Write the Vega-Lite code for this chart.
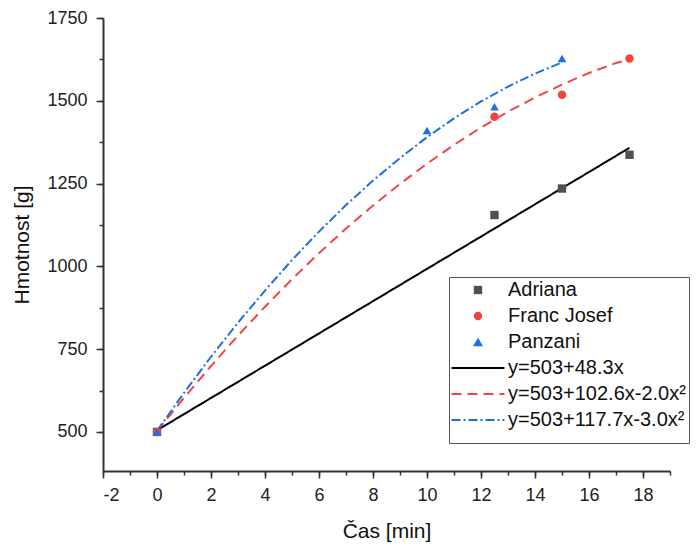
{
  "$schema": "https://vega.github.io/schema/vega-lite/v6.json",
  "width": 567,
  "height": 453,
  "autosize": "none",
  "padding": {"left": 103, "top": 18, "right": 27, "bottom": 77},
  "config": {
    "view": {"stroke": null},
    "font": "Liberation Sans",
    "axis": {
      "grid": false,
      "domainColor": "#333333",
      "domainWidth": 2,
      "tickColor": "#333333",
      "tickWidth": 1.5,
      "tickSize": 7,
      "labelFont": "Liberation Sans",
      "labelFontSize": 18,
      "labelColor": "#222222",
      "titleFont": "Liberation Sans",
      "titleFontSize": 21,
      "titleFontWeight": "normal",
      "titleColor": "#111111"
    }
  },
  "datasets": {
    "pts": [
      {"series": "Adriana", "t": 0, "m": 500},
      {"series": "Adriana", "t": 12.5, "m": 1155},
      {"series": "Adriana", "t": 15, "m": 1235},
      {"series": "Adriana", "t": 17.5, "m": 1337},
      {"series": "Franc Josef", "t": 0, "m": 500},
      {"series": "Franc Josef", "t": 12.5, "m": 1452},
      {"series": "Franc Josef", "t": 15, "m": 1518},
      {"series": "Franc Josef", "t": 17.5, "m": 1628},
      {"series": "Panzani", "t": 0, "m": 500},
      {"series": "Panzani", "t": 10, "m": 1410},
      {"series": "Panzani", "t": 12.5, "m": 1482},
      {"series": "Panzani", "t": 15, "m": 1628}
    ],
    "fit": [
      {"series": "y=503+48.3x", "t": 0, "m": 505},
      {"series": "y=503+48.3x", "t": 17.5, "m": 1358},
      {"series": "y=503+102.6x-2.0x²", "t": 0, "m": 503},
      {"series": "y=503+102.6x-2.0x²", "t": 1, "m": 603},
      {"series": "y=503+102.6x-2.0x²", "t": 2, "m": 699},
      {"series": "y=503+102.6x-2.0x²", "t": 3, "m": 791},
      {"series": "y=503+102.6x-2.0x²", "t": 4, "m": 878},
      {"series": "y=503+102.6x-2.0x²", "t": 5, "m": 961},
      {"series": "y=503+102.6x-2.0x²", "t": 6, "m": 1040},
      {"series": "y=503+102.6x-2.0x²", "t": 7, "m": 1114},
      {"series": "y=503+102.6x-2.0x²", "t": 8, "m": 1184},
      {"series": "y=503+102.6x-2.0x²", "t": 9, "m": 1249},
      {"series": "y=503+102.6x-2.0x²", "t": 10, "m": 1310},
      {"series": "y=503+102.6x-2.0x²", "t": 11, "m": 1367},
      {"series": "y=503+102.6x-2.0x²", "t": 12, "m": 1419},
      {"series": "y=503+102.6x-2.0x²", "t": 13, "m": 1467},
      {"series": "y=503+102.6x-2.0x²", "t": 14, "m": 1510},
      {"series": "y=503+102.6x-2.0x²", "t": 15, "m": 1549},
      {"series": "y=503+102.6x-2.0x²", "t": 16, "m": 1584},
      {"series": "y=503+102.6x-2.0x²", "t": 17, "m": 1614},
      {"series": "y=503+102.6x-2.0x²", "t": 17.5, "m": 1625},
      {"series": "y=503+117.7x-3.0x²", "t": 0, "m": 503},
      {"series": "y=503+117.7x-3.0x²", "t": 1, "m": 618},
      {"series": "y=503+117.7x-3.0x²", "t": 2, "m": 727},
      {"series": "y=503+117.7x-3.0x²", "t": 3, "m": 830},
      {"series": "y=503+117.7x-3.0x²", "t": 4, "m": 927},
      {"series": "y=503+117.7x-3.0x²", "t": 5, "m": 1019},
      {"series": "y=503+117.7x-3.0x²", "t": 6, "m": 1105},
      {"series": "y=503+117.7x-3.0x²", "t": 7, "m": 1185},
      {"series": "y=503+117.7x-3.0x²", "t": 8, "m": 1259},
      {"series": "y=503+117.7x-3.0x²", "t": 9, "m": 1327},
      {"series": "y=503+117.7x-3.0x²", "t": 10, "m": 1390},
      {"series": "y=503+117.7x-3.0x²", "t": 11, "m": 1447},
      {"series": "y=503+117.7x-3.0x²", "t": 12, "m": 1498},
      {"series": "y=503+117.7x-3.0x²", "t": 13, "m": 1543},
      {"series": "y=503+117.7x-3.0x²", "t": 14, "m": 1582},
      {"series": "y=503+117.7x-3.0x²", "t": 15, "m": 1616}
    ]
  },
  "layer": [
    {
      "data": {"name": "fit"},
      "mark": {"type": "line", "strokeWidth": 2},
      "encoding": {
        "x": {
          "field": "t", "type": "quantitative",
          "scale": {"domain": [-2, 19], "nice": false, "zero": false},
          "axis": {"orient": "bottom", "values": [-2, -1, 0, 1, 2, 3, 4, 5, 6, 7, 8, 9, 10, 11, 12, 13, 14, 15, 16, 17, 18, 19], "labels": false, "tickSize": 4, "domain": false, "title": null}
        },
        "y": {
          "field": "m", "type": "quantitative",
          "scale": {"domain": [382, 1750], "nice": false, "zero": false},
          "axis": {"orient": "left", "values": [500, 625, 750, 875, 1000, 1125, 1250, 1375, 1500, 1625, 1750], "labels": false, "tickSize": 4, "domain": false, "title": null}
        },
        "color": {
          "field": "series", "type": "nominal",
          "scale": {
            "domain": ["Adriana", "Franc Josef", "Panzani", "y=503+48.3x", "y=503+102.6x-2.0x²", "y=503+117.7x-3.0x²"],
            "range": ["#505050", "#f24444", "#1f6fe0", "#000000", "#f24444", "#1f6fe0"]
          },
          "legend": {
            "orient": "none", "legendX": 346, "legendY": 259,
            "title": " ", "titleOrient": "bottom", "titleFontSize": 10, "titlePadding": 0,
            "strokeColor": "#555555", "fillColor": "white", "padding": 3,
            "symbolOffset": 16,
            "labelFontSize": 20, "labelFont": "Liberation Sans", "labelColor": "#111111",
            "labelOffset": 20, "rowPadding": 6, "labelLimit": 400,
            "encode": {
              "symbols": {
                "update": {
                  "size": {"signal": "indexof(['Adriana','Franc Josef','Panzani'], datum.value) >= 0 ? (datum.value == 'Panzani' ? 100 : 70) : 2800"},
                  "fill": {"signal": "indexof(['Adriana','Franc Josef','Panzani'], datum.value) >= 0 ? scale('color', datum.value) : 'transparent'"},
                  "stroke": {"signal": "scale('color', datum.value)"},
                  "strokeWidth": {"signal": "indexof(['Adriana','Franc Josef','Panzani'], datum.value) >= 0 ? 0 : 2"},
                  "strokeDash": {"signal": "scale('strokeDash', datum.value)"},
                  "shape": {"signal": "scale('shape', datum.value)"},
                  "opacity": {"value": 1}
                }
              }
            }
          }
        },
        "strokeDash": {
          "field": "series", "type": "nominal",
          "scale": {
            "domain": ["Adriana", "Franc Josef", "Panzani", "y=503+48.3x", "y=503+102.6x-2.0x²", "y=503+117.7x-3.0x²"],
            "range": [[1, 0], [1, 0], [1, 0], [1, 0], [10, 6], [9, 3, 2, 3]]
          }
        }
      }
    },
    {
      "data": {"name": "pts"},
      "mark": {"type": "point", "filled": true, "opacity": 1},
      "encoding": {
        "x": {
          "field": "t", "type": "quantitative", "title": "Čas [min]",
          "axis": {"orient": "bottom", "values": [-2, 0, 2, 4, 6, 8, 10, 12, 14, 16, 18], "labelExpr": "'' + datum.value", "labelPadding": 8, "titlePadding": 16}
        },
        "y": {
          "field": "m", "type": "quantitative", "title": "Hmotnost [g]",
          "axis": {"orient": "left", "values": [500, 750, 1000, 1250, 1500, 1750], "labelExpr": "'' + datum.value", "labelPadding": 9, "titlePadding": 14}
        },
        "color": {"field": "series", "type": "nominal"},
        "shape": {
          "field": "series", "type": "nominal",
          "scale": {
            "domain": ["Adriana", "Franc Josef", "Panzani", "y=503+48.3x", "y=503+102.6x-2.0x²", "y=503+117.7x-3.0x²"],
            "range": ["square", "circle", "triangle-up", "stroke", "stroke", "stroke"]
          }
        },
        "size": {
          "field": "series", "type": "ordinal",
          "scale": {"domain": ["Adriana", "Franc Josef", "Panzani"], "range": [70, 75, 115]},
          "legend": null
        }
      }
    }
  ],
  "resolve": {"axis": {"x": "independent", "y": "independent"}}
}
